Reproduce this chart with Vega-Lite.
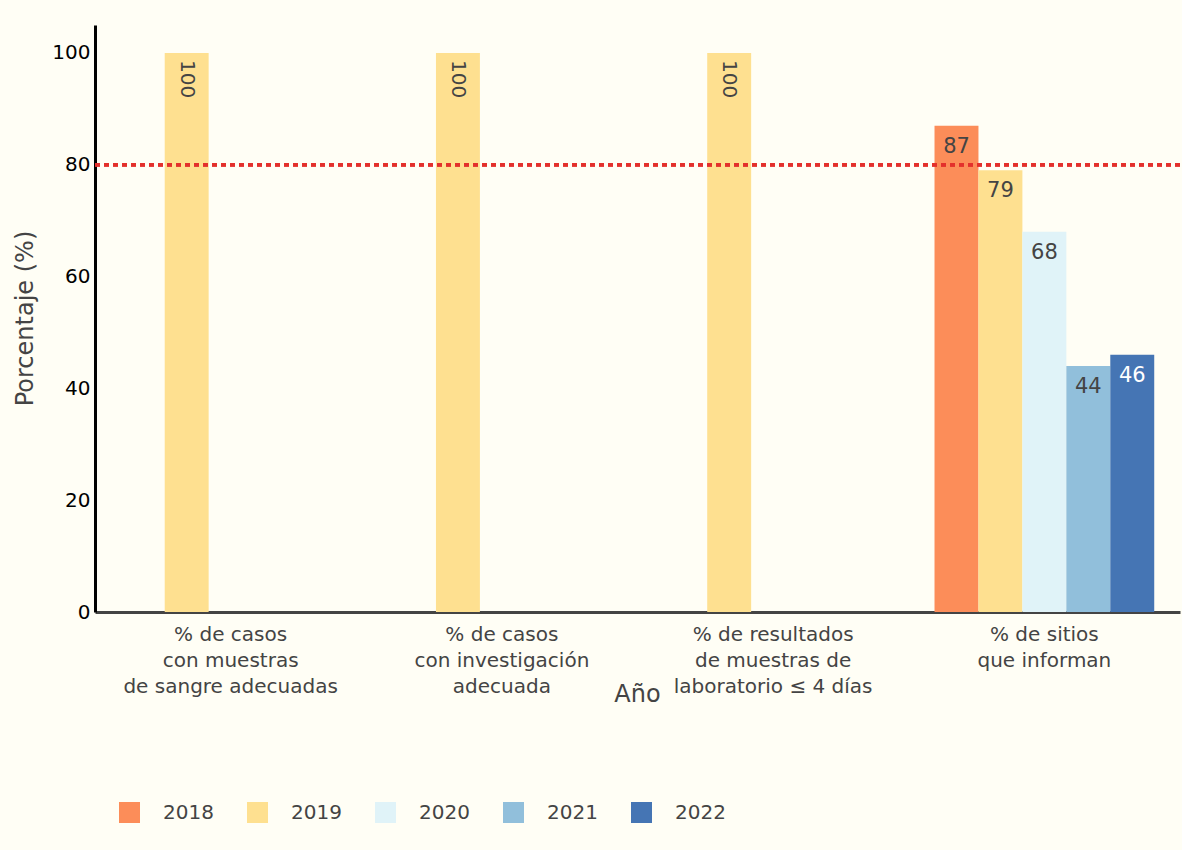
{
  "$schema": "https://vega.github.io/schema/vega-lite/v6.json",
  "width": 1085,
  "height": 587,
  "autosize": {"type": "none"},
  "padding": {"left": 95, "top": 25, "right": 2, "bottom": 238},
  "background": "#fffef5",
  "config": {"view": {"stroke": null, "fill": "#fffef5"}, "font": "DejaVu Sans"},
  "data": {
    "values": [
      {"indicador": "% de casos|con muestras|de sangre adecuadas", "anio": "2019", "valor": 100},
      {"indicador": "% de casos|con investigación|adecuada", "anio": "2019", "valor": 100},
      {"indicador": "% de resultados|de muestras de|laboratorio ≤ 4 días", "anio": "2019", "valor": 100},
      {"indicador": "% de sitios|que informan", "anio": "2018", "valor": 87},
      {"indicador": "% de sitios|que informan", "anio": "2019", "valor": 79},
      {"indicador": "% de sitios|que informan", "anio": "2020", "valor": 68},
      {"indicador": "% de sitios|que informan", "anio": "2021", "valor": 44},
      {"indicador": "% de sitios|que informan", "anio": "2022", "valor": 46}
    ]
  },
  "encoding": {
    "x": {
      "field": "indicador",
      "type": "nominal",
      "sort": ["% de casos|con muestras|de sangre adecuadas", "% de casos|con investigación|adecuada", "% de resultados|de muestras de|laboratorio ≤ 4 días", "% de sitios|que informan"],
      "scale": {"paddingInner": 0.19, "paddingOuter": 0.095},
      "axis": {
        "title": "Año",
        "titleFontSize": 24,
        "titleColor": "#444",
        "titleFontWeight": "normal",
        "titleX": 542,
        "titleY": 89,
        "titleBaseline": "alphabetic",
        "labelExpr": "split(datum.value, '|')",
        "labelFontSize": 20,
        "labelColor": "#444",
        "labelAngle": 0,
        "labelLineHeight": 26,
        "labelPadding": 12,
        "labelBaseline": "top",
        "labelLimit": 0,
        "ticks": false,
        "grid": false,
        "domainColor": "#444",
        "domainWidth": 3
      }
    },
    "xOffset": {
      "field": "anio",
      "type": "nominal",
      "scale": {"domain": ["2018", "2019", "2020", "2021", "2022"], "paddingInner": 0, "paddingOuter": 0}
    },
    "y": {
      "field": "valor",
      "type": "quantitative",
      "scale": {"domain": [0, 105], "nice": false},
      "axis": {
        "title": "Porcentaje (%)",
        "titleFontSize": 24,
        "titleColor": "#444",
        "titleFontWeight": "normal",
        "titleX": -70,
        "titleY": 293,
        "titleAlign": "center",
        "titleBaseline": "middle",
        "titleAngle": -90,
        "values": [0, 20, 40, 60, 80, 100],
        "labelFontSize": 20,
        "labelColor": "#000",
        "labelPadding": 5,
        "ticks": false,
        "grid": false,
        "domainColor": "#000",
        "domainWidth": 3
      }
    }
  },
  "layer": [
    {
      "mark": {"type": "bar"},
      "encoding": {
        "color": {
          "field": "anio",
          "type": "nominal",
          "scale": {"domain": ["2018", "2019", "2020", "2021", "2022"], "range": ["#fc8d59", "#fee090", "#e0f3f8", "#91bfdb", "#4575b4"]},
          "legend": {
            "orient": "none",
            "legendX": 24,
            "legendY": 777,
            "direction": "horizontal",
            "title": null,
            "symbolType": "square",
            "symbolSize": 441,
            "symbolStrokeWidth": 0,
            "symbolOpacity": 1,
            "labelFontSize": 20,
            "labelColor": "#444",
            "labelOffset": 23,
            "columnPadding": 33,
            "padding": 0
          }
        }
      }
    },
    {
      "mark": {"type": "rule", "color": "#e3302c", "strokeWidth": 3, "strokeDash": [5, 4]},
      "encoding": {"y": {"datum": 80}, "x": null, "xOffset": null}
    },
    {
      "transform": [{"filter": "datum.valor < 100"}],
      "mark": {"type": "text", "baseline": "top", "align": "center", "dy": 10, "fontSize": 21},
      "encoding": {
        "text": {"field": "valor", "type": "quantitative"},
        "color": {"condition": {"test": "datum.anio == '2022'", "value": "#ffffff"}, "value": "#444444"}
      }
    },
    {
      "transform": [{"filter": "datum.valor >= 100"}],
      "mark": {"type": "text", "baseline": "middle", "align": "left", "angle": 90, "dx": 7, "fontSize": 20, "color": "#444444"},
      "encoding": {
        "text": {"field": "valor", "type": "quantitative"}
      }
    }
  ]
}
